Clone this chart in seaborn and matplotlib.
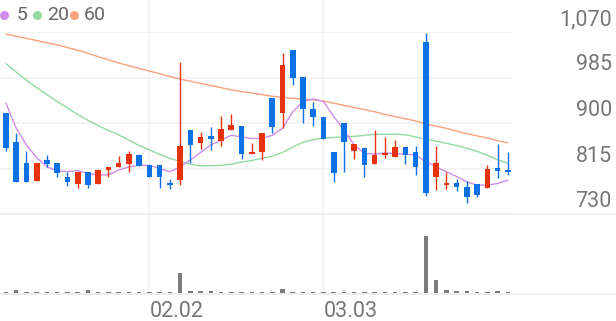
import numpy as np
import pandas as pd
import matplotlib
matplotlib.use("Agg")
import matplotlib.pyplot as plt
import seaborn as sns
from matplotlib.lines import Line2D

# ---------------- data ----------------
opens = [919, 865, 825, 792, 830, 825, 800, 786, 809, 786,
         812, 817, 823, 840, 822, 822, 788, 793, 886, 863,
         876, 867, 887, 895, 842, 846, 946, 919, 1036, 985,
         926, 912, 845, 900, 848, 853, 823, 840, 836, 856,
         845, 1052, 800, 784, 787, 781, 786, 778, 815, 812]
highs = [919, 882, 848, 825, 840, 825, 808, 809, 809, 815,
         818, 838, 848, 843, 822, 822, 795, 1014, 886, 884,
         893, 914, 916, 895, 863, 881, 946, 1030, 1036, 985,
         940, 912, 845, 900, 860, 853, 887, 873, 868, 856,
         857, 1068, 857, 809, 795, 792, 786, 822, 861, 845]
lows = [848, 790, 790, 792, 818, 800, 783, 778, 778, 786,
        800, 817, 809, 820, 800, 779, 776, 784, 825, 851,
        850, 857, 887, 833, 842, 830, 881, 890, 971, 900,
        895, 870, 790, 809, 832, 800, 823, 834, 836, 823,
        803, 764, 775, 776, 773, 751, 761, 778, 797, 803]
closes = [854, 790, 790, 825, 823, 807, 789, 809, 784, 813,
          818, 825, 843, 820, 800, 799, 784, 857, 858, 874,
          871, 889, 896, 843, 846, 881, 893, 1008, 985, 926,
          911, 870, 806, 864, 860, 822, 840, 843, 856, 840,
          818, 770, 825, 787, 781, 762, 766, 815, 811, 808]
volumes = [25000, 67000, 32000, 17000, 17000, 17000, 17000, 17000, 82000, 17000,
           17000, 17000, 17000, 17000, 17000, 17000, 17000, 500000, 50000, 42000,
           42000, 17000, 17000, 17000, 17000, 17000, 25000, 92000, 25000, 17000,
           17000, 17000, 17000, 17000, 17000, 17000, 17000, 17000, 17000, 17000,
           32000, 1425000, 332000, 82000, 42000, 42000, 25000, 32000, 42000, 17000]
ma5 = [937, 890, 859, 835, 818, 811, 809, 811, 806, 803,
       803, 812, 818, 821, 821, 815, 809, 818, 831, 845,
       859, 868, 877, 874, 871, 871, 877, 890, 921, 940,
       945, 940, 912, 887, 859, 843, 842, 844, 843, 842,
       840, 828, 818, 809, 800, 790, 784, 784, 787, 793]
ma20 = [1011, 995, 980, 966, 953, 940, 928, 916, 905, 895,
        886, 878, 868, 858, 850, 841, 834, 828, 823, 820,
        820, 821, 823, 827, 830, 834, 838, 845, 855, 864,
        869, 872, 873, 874, 875, 877, 879, 879, 879, 878,
        874, 870, 866, 862, 858, 853, 847, 840, 831, 825]
ma60 = [1066, 1062, 1058, 1054, 1050, 1046, 1041, 1036, 1030, 1024,
        1018, 1012, 1007, 1002, 997, 992, 987, 982, 978, 974,
        970, 966, 962, 959, 956, 953, 950, 948, 946, 945,
        943, 941, 937, 933, 929, 925, 921, 916, 912, 908,
        904, 898, 894, 890, 885, 880, 876, 872, 867, 863]
price_ticks = [730, 815, 900, 985, 1070]
price_tick_labels = ["730", "815", "900", "985", "1,070"]
date_tick_idx = [14, 31]
date_tick_labels = ["02.02", "03.03"]
ma_names = ["5", "20", "60"]

# ---------------- style ----------------
RED = "#e8310d"
BLUE = "#0c70e6"
C5, C20, C60 = "#cf8deb", "#92d9a2", "#f8a37f"
GRID = "#f1f1f1"
TXT = "#767676"

sns.set_theme(style="white")
plt.rcParams["font.family"] = ["Roboto", "DejaVu Sans"]

W, H = 616, 321
fig = plt.figure(figsize=(W / 100, H / 100), dpi=100)

def fy(py):
    return 1 - py / H

ax = fig.add_axes([0, fy(214), 512 / W, (214 - 32) / H])
axv = fig.add_axes([0, fy(293), 512 / W, (293 - 216) / H])

n = len(opens)
df = pd.DataFrame({"idx": np.arange(n), "open": opens, "high": highs, "low": lows,
                   "close": closes, "volume": volumes,
                   "ma5": ma5, "ma20": ma20, "ma60": ma60})
df["up"] = df["close"] >= df["open"]
df["color"] = np.where(df["up"], RED, BLUE)

xlim = (-0.586, 49.41)
ax.set_xlim(*xlim)
ax.set_ylim(730, 1070)
axv.set_xlim(*xlim)
axv.set_ylim(0, max(volumes) * 77 / 57)

for a in (ax, axv):
    for s in a.spines.values():
        s.set_visible(False)
    a.set_xticks([])
    a.set_facecolor("none")

ax.set_yticks(price_ticks)
ax.set_yticklabels([])
ax.tick_params(axis="y", length=0)
ax.grid(axis="y", color=GRID, lw=1.1, zorder=0)
axv.set_yticks([])

# vertical date grid lines
for xi in date_tick_idx:
    ax.axvline(xi, ymin=0, ymax=214 / 182, color=GRID, lw=1.1, clip_on=False, zorder=0)
    axv.axvline(xi, ymin=0, ymax=(293 - 212) / 77, color=GRID, lw=1.1, clip_on=False, zorder=0)

# full-width separators
fig.add_artist(Line2D([0, 1], [fy(214), fy(214)], transform=fig.transFigure,
                      color="#e9e9e9", lw=1.1))
fig.add_artist(Line2D([0, 1], [fy(293.5), fy(293.5)], transform=fig.transFigure,
                      color="#e9e9e9", lw=1.1))

# moving averages
sns.lineplot(data=df, x="idx", y="ma60", ax=ax, color=C60, lw=1.0, zorder=2)
sns.lineplot(data=df, x="idx", y="ma20", ax=ax, color=C20, lw=1.0, zorder=2)
sns.lineplot(data=df, x="idx", y="ma5", ax=ax, color=C5, lw=1.0, zorder=2)
ax.set_xlabel("")
ax.set_ylabel("")

# candles
min_body = 3.5
body_bottom = np.minimum(df["open"], df["close"])
body_h = np.maximum(np.abs(df["close"] - df["open"]), min_body)
ax.vlines(df["idx"], df["low"], df["high"], colors=df["color"], lw=1.0, zorder=3)
ax.bar(df["idx"], body_h, bottom=body_bottom, width=0.55, color=df["color"],
       linewidth=0, zorder=4)

# volume
axv.bar(df["idx"], df["volume"], width=0.44, color="#7b7b7b", linewidth=0, zorder=3)
axv.set_xlabel("")
axv.set_ylabel("")

# price labels on right
for v, lab in zip(price_ticks, price_tick_labels):
    ax.annotate(lab, xy=(1, v), xycoords=("axes fraction", "data"),
                xytext=(100, 7), textcoords="offset pixels",
                ha="right", va="baseline", fontsize=15.5, color=TXT)

# date labels
for xi, lab in zip(date_tick_idx, date_tick_labels):
    axv.annotate(lab, xy=(xi, 0), xycoords=("data", "axes fraction"),
                 xytext=(0, -24), textcoords="offset pixels",
                 ha="left", va="baseline", fontsize=15.5, color=TXT)

# legend
leg_items = [(4, 17, C5), (37, 47, C20), (74, 84, C60)]
for (cx, tx, col), name in zip(leg_items, ma_names):
    fig.add_artist(Line2D([cx / W], [fy(15)], transform=fig.transFigure,
                          marker="o", markersize=5.5, color=col, lw=0))
    fig.text(tx / W, fy(20.5), name, ha="left", va="baseline",
             fontsize=14, color="#666666")

fig.savefig("out.png", dpi=100)
